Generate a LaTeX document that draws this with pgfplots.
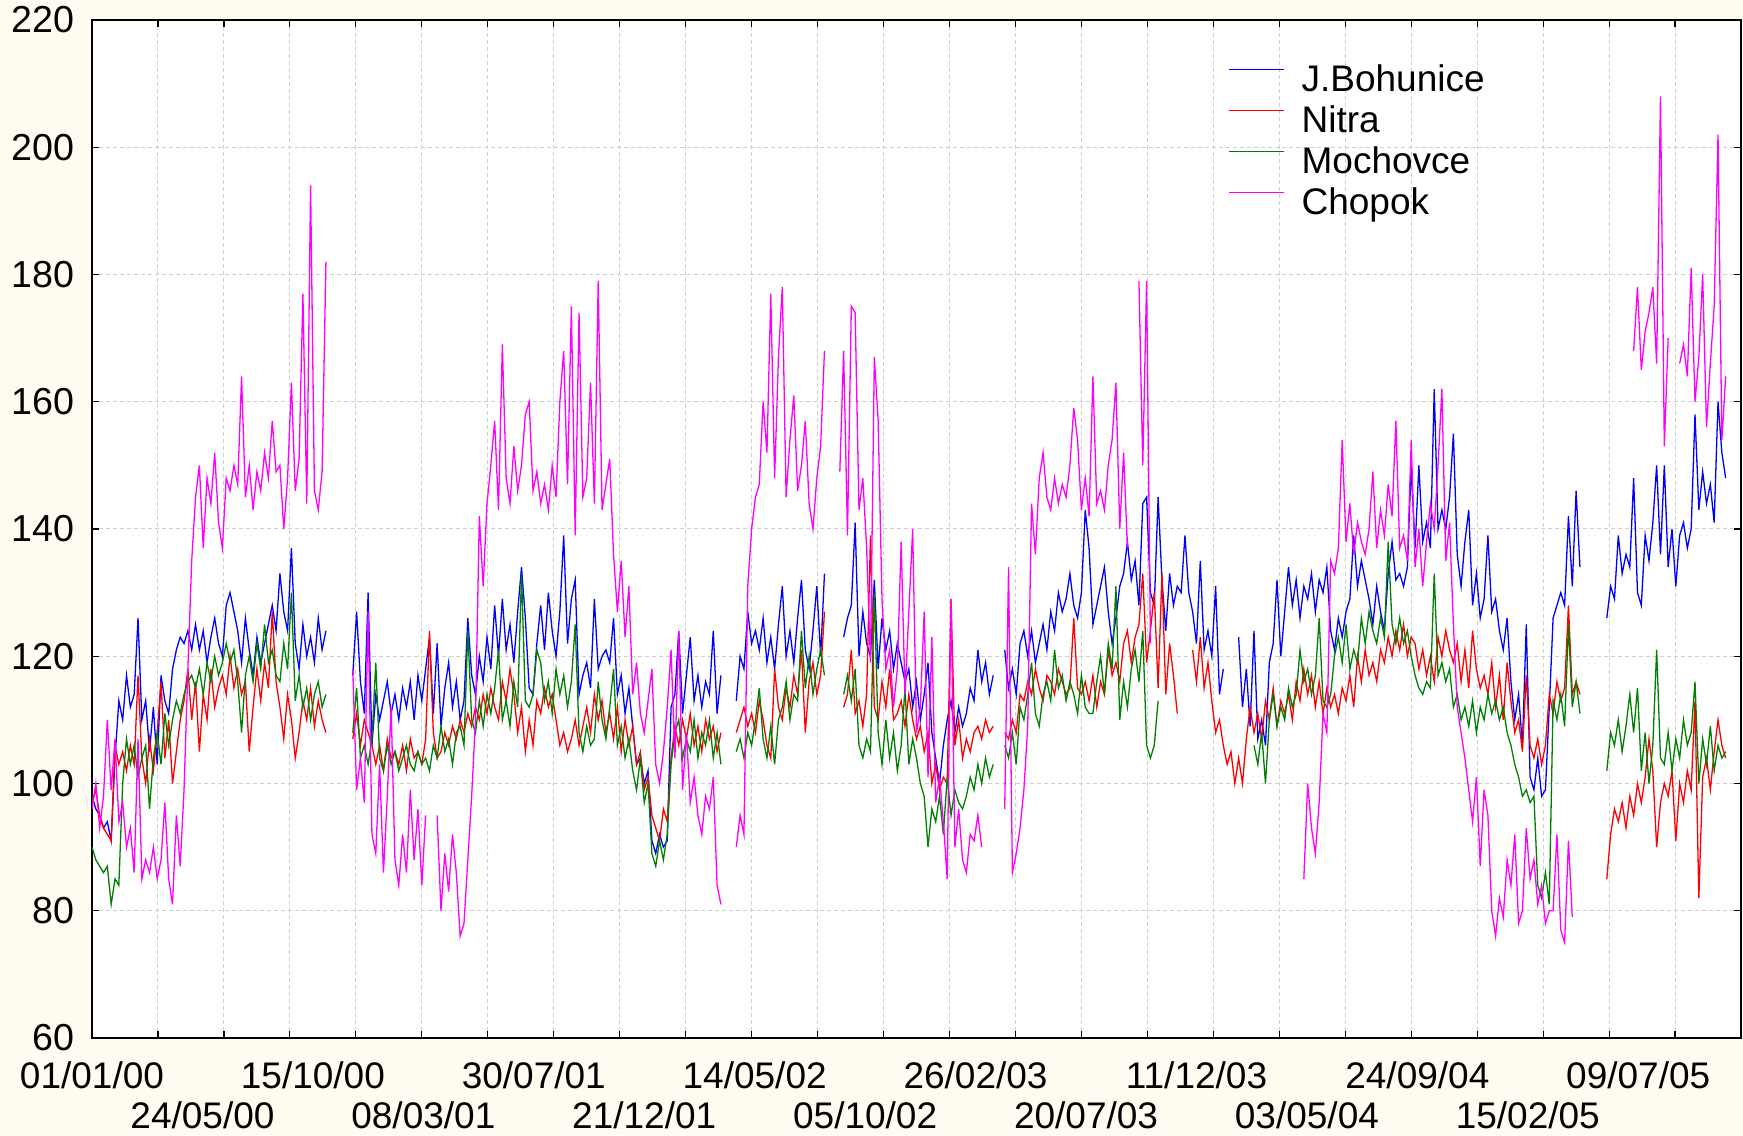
\documentclass[border=0pt]{standalone}
\usepackage{fontspec}
\setmainfont{Liberation Sans}
\usepackage{pgfplots}
\usepackage{pgfplotstable}
\pgfplotsset{compat=1.18}
\definecolor{bgcream}{HTML}{FFFBF0}
\definecolor{gridc}{HTML}{CFCFCF}
\definecolor{sblue}{RGB}{0,0,255}
\definecolor{sred}{RGB}{255,0,0}
\definecolor{sgreen}{RGB}{0,128,0}
\definecolor{smag}{RGB}{255,0,255}

% day (from 01/01/2000), J.Bohunice, Nitra, Mochovce, Chopok
\pgfplotstableread{
d B N M C
0 98 97 90 96
5 96 99 88 100
10 95 95 87 93
15 93 93 86 98
20 94 92 87 110
25 91 91 81 99
30 104 106 85 107
35 113 103 84 94
40 110 105 100 97
45 117 102 107 90
50 112 106 103 93
55 114 103 106 86
60 126 117 101 107
65 110 104 104 85
70 113 100 106 88
75 105 107 96 86
80 112 102 104 90
85 103 108 108 85
90 117 116 103 88
95 113 104 111 97
100 111 110 106 85
105 118 100 110 81
110 121 105 113 95
115 123 110 111 87
120 122 113 114 99
125 124 118 116 118
130 121 110 117 135
135 125 116 115 145
140 121 105 118 150
145 124 114 114 137
150 119 110 119 148
155 123 118 116 144
160 126 112 120 152
165 122 115 117 141
170 120 117 119 137
175 128 114 122 148
180 130 120 119 146
185 127 115 121 150
190 124 118 116 147
195 119 114 108 164
200 126 116 117 145
205 121 105 120 150
210 117 112 116 143
215 123 118 122 149
220 119 113 118 146
225 122 119 125 152
230 125 115 119 148
235 128 127 121 157
240 124 116 117 149
245 133 112 116 150
250 127 107 122 140
255 124 114 118 148
260 137 110 130 163
265 122 104 113 146
270 118 108 117 151
275 125 113 112 177
280 120 110 115 144
285 123 115 110 194
290 119 109 114 146
295 126 113 116 143
300 121 110 112 149
305 124 108 114 182
320 nan nan nan nan
340 117 107 108 118
345 127 111 115 99
350 116 106 104 104
355 111 110 106 97
360 130 108 103 127
365 106 106 107 92
370 114 103 119 89
375 110 106 104 103
380 113 102 102 86
385 116 107 106 98
390 111 104 103 112
395 114 105 105 88
400 110 103 102 84
405 115 106 104 92
410 112 102 106 86
415 116 107 103 99
420 110 104 102 88
425 117 105 105 96
430 113 103 103 84
435 118 107 104 95
440 123 124 102 nan
445 111 108 106 nan
450 122 104 104 95
455 109 105 109 80
460 115 108 105 89
465 119 106 107 83
470 112 109 103 92
475 116 107 108 86
480 110 110 109 76
485 113 108 106 78
490 126 111 124 88
495 117 109 110 98
500 114 112 108 110
505 120 110 113 142
510 116 114 109 131
515 123 111 114 144
520 118 115 111 150
525 128 112 115 157
530 120 110 121 143
535 129 116 110 169
540 121 113 113 148
545 125 118 109 144
550 119 114 116 153
555 127 108 112 146
560 134 112 133 150
565 126 105 113 158
570 115 110 112 160
575 114 106 114 146
580 122 113 121 149
585 128 111 119 144
590 121 115 113 147
595 130 112 116 143
600 124 114 111 150
605 120 110 118 145
610 127 106 114 160
615 139 108 117 168
620 122 105 112 147
625 129 107 116 175
630 132 110 125 139
635 114 106 108 174
640 117 109 105 145
645 119 112 109 148
650 115 108 106 163
655 129 114 107 144
660 118 110 116 179
665 120 113 110 143
670 121 108 107 147
675 119 111 112 151
680 126 107 118 136
685 114 112 106 127
690 117 105 109 135
695 111 110 104 123
700 115 106 107 131
705 109 109 102 114
710 103 103 99 119
715 104 105 104 111
720 100 99 97 108
725 102 101 100 113
730 91 95 89 118
735 89 93 87 103
740 92 91 91 100
745 90 96 88 105
750 91 94 92 112
755 112 104 103 121
760 114 109 108 104
765 124 106 110 124
770 111 110 104 99
775 117 107 107 108
780 123 111 105 97
785 113 106 110 101
790 117 109 104 95
795 112 105 108 92
800 116 110 106 98
805 114 107 110 96
810 124 109 104 101
815 111 105 108 84
820 117 108 103 81
830 nan nan nan nan
840 113 108 105 90
845 120 110 107 95
850 118 112 104 92
855 127 109 108 131
860 122 111 106 140
865 124 108 110 145
870 121 113 115 147
875 126 110 107 160
880 119 106 104 152
885 123 104 109 177
890 118 118 103 148
895 125 112 110 167
900 131 110 112 178
905 120 115 116 145
910 124 112 110 154
915 119 117 114 161
920 126 114 113 146
925 132 121 124 150
930 121 108 115 157
935 118 116 120 144
940 124 119 114 140
945 131 114 118 148
950 120 117 121 153
955 133 127 117 168
965 nan nan nan nan
975 nan nan nan 149
980 123 112 114 168
985 126 114 117 139
990 128 121 113 175
995 141 111 118 174
1000 120 113 106 143
1005 127 109 104 148
1010 122 114 107 137
1015 120 139 105 119
1020 132 112 130 167
1025 118 110 108 157
1030 126 116 103 129
1035 121 112 110 118
1040 124 118 104 121
1045 118 110 108 112
1050 122 111 102 118
1055 119 113 106 138
1060 116 109 115 114
1065 118 114 103 127
1070 112 110 107 140
1075 116 107 104 108
1080 110 109 100 112
1085 114 105 98 127
1090 119 108 90 101
1095 108 100 96 123
1100 104 103 94 97
1105 100 99 98 101
1110 106 101 92 94
1115 110 100 101 85
1120 113 129 95 129
1125 108 106 99 90
1130 112 110 97 96
1135 109 104 96 88
1140 111 107 98 86
1145 115 105 101 92
1150 113 108 99 91
1155 121 109 103 95
1160 116 107 100 90
1165 119 110 104 nan
1170 114 108 101 nan
1175 117 109 103 nan
1182 nan nan nan nan
1190 121 108 106 96
1195 115 107 104 134
1200 118 110 108 86
1205 114 108 103 89
1210 122 114 112 93
1215 124 113 110 99
1220 120 116 114 109
1225 124 114 119 144
1230 119 118 111 136
1235 122 115 109 148
1240 125 113 114 152
1245 121 117 116 145
1250 127 116 113 143
1255 124 114 121 148
1260 130 118 115 144
1265 127 116 117 147
1270 129 114 113 145
1275 133 115 116 150
1280 128 126 114 159
1285 126 115 111 154
1290 130 114 117 143
1295 143 116 112 148
1300 137 113 111 142
1305 125 117 111 164
1310 128 112 116 144
1315 131 116 120 146
1320 134 114 114 143
1325 127 121 122 150
1330 122 117 118 154
1335 126 119 131 163
1340 131 116 110 140
1345 133 122 116 152
1350 138 124 112 137
1355 132 119 118 nan
1360 135 123 121 nan
1365 128 125 116 179
1370 144 133 124 150
1375 145 119 106 179
1380 130 124 104 122
1385 128 130 106 nan
1390 145 115 113 nan
1395 132 133 nan nan
1400 124 114 nan nan
1405 133 122 nan nan
1410 128 117 nan nan
1415 131 111 nan nan
1420 130 nan nan nan
1425 139 nan nan nan
1430 130 nan nan nan
1435 127 121 nan nan
1440 122 116 nan nan
1445 135 123 nan nan
1450 121 115 nan nan
1455 124 119 nan nan
1460 120 113 nan nan
1465 131 108 nan nan
1470 114 110 nan nan
1475 118 106 nan nan
1480 nan 103 nan nan
1485 nan 105 nan nan
1490 nan 100 nan nan
1495 123 104 nan nan
1500 112 100 nan nan
1505 118 107 nan nan
1510 109 112 nan nan
1515 124 108 106 nan
1520 107 111 103 nan
1525 110 107 108 nan
1530 106 113 100 nan
1535 119 110 110 nan
1540 122 115 114 nan
1545 132 109 109 nan
1550 120 113 112 nan
1555 127 111 110 nan
1560 134 114 115 nan
1565 128 110 112 nan
1570 132 116 114 nan
1575 126 113 121 nan
1580 131 118 116 85
1585 129 114 118 100
1590 133 117 114 93
1595 127 112 117 89
1600 132 116 126 97
1605 130 111 113 111
1610 134 115 112 108
1615 124 112 114 135
1620 121 114 120 133
1625 126 111 123 137
1630 123 115 119 154
1635 127 113 125 138
1640 129 117 118 144
1645 139 112 121 136
1650 131 120 119 141
1655 135 116 126 138
1660 132 121 122 136
1665 129 117 127 140
1670 125 119 124 149
1675 131 116 122 137
1680 127 121 126 143
1685 124 119 123 139
1690 133 123 138 147
1695 138 120 125 142
1700 132 124 122 157
1705 133 121 126 137
1710 131 125 122 139
1715 134 120 124 135
1720 150 123 120 154
1725 137 122 117 134
1730 150 118 115 140
1735 138 121 114 131
1740 141 117 116 138
1745 137 120 115 144
1750 162 116 133 140
1755 140 123 117 150
1760 143 120 119 162
1765 140 124 116 135
1770 145 121 118 141
1775 155 119 112 125
1780 136 122 114 112
1785 131 116 110 108
1790 138 121 112 104
1795 143 115 109 99
1800 128 124 113 94
1805 133 118 108 101
1810 126 115 112 87
1815 129 117 110 99
1820 139 114 114 95
1825 127 119 111 80
1830 129 112 113 76
1835 124 117 110 82
1840 121 110 112 79
1845 126 119 108 88
1850 116 113 106 84
1855 110 108 103 92
1860 114 110 101 78
1865 106 105 98 80
1870 125 117 99 93
1875 101 106 97 85
1880 99 104 98 88
1885 104 107 84 81
1890 98 103 82 84
1895 99 106 86 78
1900 112 114 81 80
1905 126 111 113 80
1910 128 116 110 92
1915 130 113 114 77
1920 128 115 109 75
1925 142 128 125 91
1930 131 114 112 79
1935 146 116 116 nan
1940 134 114 111 nan
1955 nan nan nan nan
1975 126 85 102 nan
1980 131 92 108 nan
1985 129 96 106 nan
1990 139 94 110 nan
1995 133 97 105 nan
2000 136 93 109 nan
2005 134 98 114 nan
2010 148 95 108 168
2015 130 100 115 178
2020 128 97 102 165
2025 139 101 108 171
2030 135 107 100 174
2035 141 102 106 178
2040 150 90 121 166
2045 136 97 104 208
2050 150 100 103 153
2055 134 98 108 170
2060 140 102 102 nan
2065 131 91 107 nan
2070 139 100 104 166
2075 141 97 110 169
2080 137 102 106 164
2085 140 99 108 181
2090 158 113 116 160
2095 143 82 100 167
2100 149 101 107 180
2105 144 104 103 156
2110 147 99 109 166
2115 141 105 102 175
2120 160 110 106 202
2125 152 106 104 154
2130 148 104 105 164
}\airdata

\begin{document}
\begin{tikzpicture}
\fill[bgcream] (-46pt,-48.5pt) rectangle (825.5pt,519pt);
\path[use as bounding box] (-46pt,-48.5pt) rectangle (825.5pt,519pt);
\begin{axis}[
    at={(0pt,0pt)}, anchor=south west,
    scale only axis,
    width=824.5pt, height=509pt,
    xmin=0, xmax=2150,
    ymin=60, ymax=220,
    ytick={60,80,...,220},
    xtick={0,86,...,2160},
    xticklabels={},
    extra x ticks={0,144,...,2016},
    extra x tick labels={{01/01/00},{\vphantom{0}\\24/05/00},{15/10/00},{\vphantom{0}\\08/03/01},{30/07/01},{\vphantom{0}\\21/12/01},{14/05/02},{\vphantom{0}\\05/10/02},{26/02/03},{\vphantom{0}\\20/07/03},{11/12/03},{\vphantom{0}\\03/05/04},{24/09/04},{\vphantom{0}\\15/02/05},{09/07/05}},
    extra x tick style={grid=none, major tick length=0pt,
        xticklabel style={align=center, yshift=-8.3pt}},
    xticklabel style={font=\fontsize{18.5}{20.6}\selectfont},
    yticklabel style={font=\fontsize{18.8}{20}\selectfont, xshift=-5.5pt},
    /pgf/number format/assume math mode=true,
    tick align=inside,
    major tick length=3.5pt,
    tick style={black, line width=0.6pt},
    axis line style={black, line width=0.9pt},
    axis background/.style={fill=white},
    grid=major,
    major grid style={gridc, dash pattern=on 2pt off 1.5pt, line width=0.5pt},
    unbounded coords=jump,
    legend cell align=left,
    legend image code/.code={\draw[#1, line width=0.6pt] (0pt,6.4pt) -- (27.5pt,6.4pt);},
    legend style={at={(0.6889,0.9556)}, anchor=north west, draw=none, fill=none,
        inner sep=0pt, row sep=3.5pt, column sep=8.5pt,
        font=\fontsize{18.5}{20}\selectfont,
        nodes={inner sep=0pt, text height=13pt, text depth=4pt}},
]
\addplot[sblue, line width=0.65pt] table[x=d, y=B] {\airdata};
\addlegendentry{J.Bohunice}
\addplot[sred, line width=0.65pt] table[x=d, y=N] {\airdata};
\addlegendentry{Nitra}
\addplot[sgreen, line width=0.65pt] table[x=d, y=M] {\airdata};
\addlegendentry{Mochovce}
\addplot[smag, line width=0.65pt] table[x=d, y=C] {\airdata};
\addlegendentry{Chopok}
\end{axis}
\end{tikzpicture}
\end{document}
